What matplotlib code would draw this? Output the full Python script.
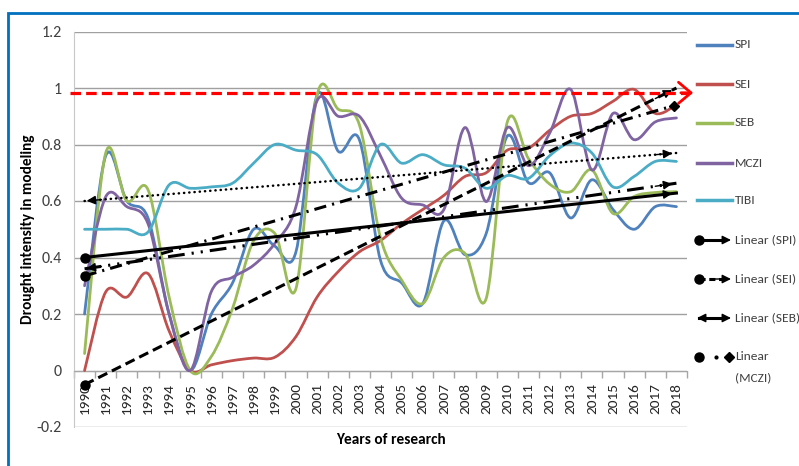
import numpy as np
import matplotlib
matplotlib.use('Agg')
import matplotlib.pyplot as plt
import matplotlib.transforms as mtransforms
from matplotlib.path import Path
from matplotlib.patches import PathPatch, Rectangle
from matplotlib.lines import Line2D

plt.rcParams['font.family'] = ['Carlito', 'Barlow Semi Condensed', 'DejaVu Sans']

years = list(range(1990, 2019))

spi = [0.20, 0.76, 0.60, 0.54, 0.20, 0.00, 0.20, 0.31, 0.50, 0.44,
       0.42, 0.975, 0.776, 0.817, 0.39, 0.31, 0.237, 0.53, 0.41, 0.485,
       0.83, 0.665, 0.70, 0.54, 0.675, 0.57, 0.50, 0.58, 0.58]
sei = [0.00, 0.278, 0.26, 0.343, 0.14, 0.00, 0.02, 0.035, 0.044, 0.047,
       0.12, 0.26, 0.35, 0.42, 0.46, 0.52, 0.57, 0.62, 0.687, 0.70,
       0.78, 0.787, 0.85, 0.90, 0.91, 0.953, 0.995, 0.91, 0.94]
seb = [0.06, 0.77, 0.60, 0.64, 0.26, 0.00, 0.05, 0.22, 0.46, 0.485,
       0.29, 0.975, 0.925, 0.87, 0.47, 0.32, 0.237, 0.40, 0.414, 0.255,
       0.88, 0.75, 0.66, 0.633, 0.71, 0.556, 0.616, 0.63, 0.633]
mczi = [0.30, 0.615, 0.58, 0.52, 0.20, 0.00, 0.28, 0.33, 0.373, 0.45,
        0.58, 0.955, 0.90, 0.90, 0.76, 0.61, 0.586, 0.57, 0.86, 0.598,
        0.86, 0.725, 0.84, 0.995, 0.71, 0.91, 0.817, 0.88, 0.894]
tibi = [0.50, 0.50, 0.50, 0.49, 0.657, 0.645, 0.65, 0.663, 0.734, 0.80,
        0.78, 0.764, 0.663, 0.645, 0.80, 0.734, 0.764, 0.728, 0.716, 0.645,
        0.69, 0.68, 0.76, 0.805, 0.77, 0.65, 0.687, 0.74, 0.74]

series_names = ['SPI', 'SEI', 'SEB', 'MCZI', 'TIBI']
series_values = [spi, sei, seb, mczi, tibi]
series_colors = ['#4F81BD', '#C0504D', '#9BBB59', '#8064A2', '#4BACC6']

# linear trend lines, values at 1990 and 2018
trend_start = [0.40, -0.05, 0.36, 0.335, 0.60]
trend_end = [0.628, 1.00, 0.663, 0.94, 0.77]
threshold = 0.983

W, H = 799, 466


def smooth_path(x, y):
    # excel style smoothed line: bezier segments with 1/6 tangents
    pts = np.column_stack([x, y]).astype(float)
    n = len(pts)
    verts = [pts[0]]
    codes = [Path.MOVETO]
    for i in range(n - 1):
        p0 = pts[i - 1] if i > 0 else pts[i]
        p1 = pts[i]
        p2 = pts[i + 1]
        p3 = pts[i + 2] if i + 2 < n else pts[i + 1]
        verts += [p1 + (p2 - p0) / 6, p2 - (p3 - p1) / 6, p2]
        codes += [Path.CURVE4] * 3
    return Path(verts, codes)


def arrow_head(ax, tip, tail, coords='data', color='black', style='-|>', scale=13, lw=1.0):
    ax.annotate('', xy=tip, xytext=tail, xycoords=coords, textcoords=coords,
                arrowprops=dict(arrowstyle=style, color=color, lw=lw,
                                shrinkA=0, shrinkB=0, mutation_scale=scale),
                annotation_clip=False, zorder=6)


def fig_xy(px, py):
    return px / W, 1 - py / H


fig = plt.figure(figsize=(W / 100, H / 100), dpi=100)
ax = fig.add_axes([74 / W, 1 - 427 / H, 613 / W, 395.5 / H])
for s in ['top', 'right']:
    ax.spines[s].set_visible(False)
ax.spines['bottom'].set_position(('data', 0))
ax.spines['bottom'].set_color('#A6A6A6')
ax.spines['left'].set_color('#C8C8C8')

x = np.arange(len(years))
for vals, col in zip(series_values, series_colors):
    ax.add_patch(PathPatch(smooth_path(x, vals), fill=False, edgecolor=col,
                           lw=2.0, zorder=3, capstyle='round', joinstyle='round'))

# trend lines
trend_styles = [
    dict(ls='-', lw=2.2),
    dict(ls=(0, (3.3, 1.7)), lw=2.2),
    dict(ls=(0, (5.5, 2.3, 0.7, 2.3, 0.7, 2.3)), lw=2.2),
    dict(ls=(0, (4, 2.0, 0.7, 2.0)), lw=2.2),
    dict(ls=(0, (0.1, 2.0)), lw=1.8, dash_capstyle='round'),
]
start_marks = ['o', 'o', '<', 'o', '<']
end_marks = ['>', '>', '>', 'D', '>']
x0, x1 = x[0], x[-1]
for y0, y1, sty, sm, em in zip(trend_start, trend_end, trend_styles, start_marks, end_marks):
    ax.plot([x0, x1], [y0, y1], color='black', zorder=5, **sty)
    if sm == 'o':
        ax.plot([x0], [y0], 'o', color='black', ms=6.5, zorder=6, clip_on=False)
    else:
        tail = (x0 + 0.8, y0 + (y1 - y0) * 0.8 / (x1 - x0))
        arrow_head(ax, (x0 + 0.1, y0 + (y1 - y0) * 0.1 / (x1 - x0)), tail)
    if em == 'D':
        ax.plot([x1 - 0.1], [y1 - (y1 - y0) * 0.1 / (x1 - x0)], 'D', color='black', ms=5.5, zorder=6)
    else:
        tail = (x1 - 1.0, y1 - (y1 - y0) * 1.0 / (x1 - x0))
        arrow_head(ax, (x1 - 0.2, y1 - (y1 - y0) * 0.2 / (x1 - x0)), tail)

# red threshold line
blend = mtransforms.blended_transform_factory(ax.transAxes, ax.transData)
ax.plot([-0.007, 1.0], [threshold, threshold], color='#FF0000', lw=2.3,
        dashes=(3.3, 1.6), transform=blend, clip_on=False, zorder=7)
ax.annotate('', xy=(1.01, threshold), xytext=(0.99, threshold),
            xycoords=blend, textcoords=blend,
            arrowprops=dict(arrowstyle='->,head_length=0.45,head_width=0.38', color='#FF0000',
                            lw=2.0, shrinkA=0, shrinkB=0, mutation_scale=20),
            annotation_clip=False, zorder=7)

ax.set_xlim(-0.5, len(years) - 0.5)
ax.set_ylim(-0.2, 1.2)
yt = np.round(np.arange(-0.2, 1.21, 0.2), 1)
ax.set_yticks(yt)
ax.set_yticklabels([f'{v:g}' for v in yt])
ax.set_xticks(x)
ax.set_xticklabels([str(y) for y in years])
ax.set_xticks(np.arange(-0.5, len(years), 1), minor=True)
ax.tick_params(axis='x', which='major', length=0, pad=9, labelsize=11,
               colors='#262626', labelrotation=90)
ax.tick_params(axis='x', which='minor', length=5, color='#A6A6A6', width=1)
ax.tick_params(axis='y', length=0, pad=9, labelsize=11.5, colors='#404040')
ax.grid(axis='y', color='#A0A0A0', lw=1)
ax.set_axisbelow(True)

ax.set_ylabel('Drought intensity in modeling', fontsize=11, fontweight='bold')
ax.yaxis.set_label_coords(-39 / 613, 0.5)
ax.set_xlabel('Years of research', fontsize=11, fontweight='bold')
ax.xaxis.set_label_coords((391 - 74) / 613, -13 / 395.5)
ax.xaxis.label.set_verticalalignment('center')

# legend, drawn by hand to get the arrow samples
leg_fs = 9.6
leg_y = [45, 84, 123, 163, 200]
for name, col, py in zip(series_names, series_colors, leg_y):
    fig.add_artist(Line2D([697 / W, 732 / W], [1 - py / H] * 2, color=col, lw=2.5,
                          transform=fig.transFigure))
    fig.text(*fig_xy(735, py), name, fontsize=leg_fs, color='#404040', va='center')

trend_leg_y = [240, 279, 318, 357]
trend_labels = ['Linear (SPI)', 'Linear (SEI)', 'Linear (SEB)', 'Linear']
for i, (py, lab) in enumerate(zip(trend_leg_y, trend_labels)):
    a = fig_xy(699, py)
    b = fig_xy(722, py)
    if i < 3:
        sty = dict(trend_styles[i])
        sty['ls'] = '-' if i != 1 else (0, (2.0, 1.2))
        fig.add_artist(Line2D([a[0], b[0]], [a[1]] * 2, color='black',
                              transform=fig.transFigure, **sty))
    else:
        fig.add_artist(Line2D([fig_xy(716, py)[0]], [a[1]], marker='o', ms=2, color='black',
                              transform=fig.transFigure, ls='none'))
    if start_marks[i] == 'o':
        fig.add_artist(Line2D([a[0]], [a[1]], marker='o', ms=6.5, color='black',
                              transform=fig.transFigure, ls='none'))
    else:
        arrow_head(ax, fig_xy(697, py), fig_xy(712, py), coords='figure fraction')
    if end_marks[i] == 'D':
        fig.add_artist(Line2D([fig_xy(729, py)[0]], [a[1]], marker='D', ms=5.5, color='black',
                              transform=fig.transFigure, ls='none'))
    else:
        arrow_head(ax, fig_xy(731, py), fig_xy(715, py), coords='figure fraction')
    fig.text(*fig_xy(735, py), lab, fontsize=leg_fs, color='#404040', va='center')
fig.text(*fig_xy(735, 378), '(MCZI)', fontsize=leg_fs, color='#404040', va='center')

# blue frame around the chart
fig.add_artist(Rectangle((8 / W, -0.1), 1.2, 1.1 - 13 / H, fill=False,
                         edgecolor='#0070C0', lw=2, transform=fig.transFigure))

fig.savefig('out.png', dpi=100)
